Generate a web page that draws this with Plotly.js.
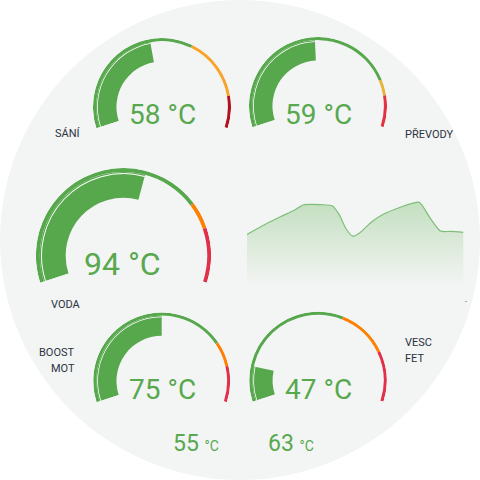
<!DOCTYPE html>
<html>
<head>
<meta charset="utf-8">
<script src="https://cdn.plot.ly/plotly-3.0.1.min.js"></script>
<style>
  html, body { margin: 0; padding: 0; background: #ffffff; }
  #chart { width: 480px; height: 480px; }
</style>
</head>
<body>
<div id="chart"></div>
<script>
// ---------- data ----------
const gaugeNames  = ['SÁNÍ', 'PŘEVODY', 'VODA', 'BOOST MOT', 'VESC FET'];
const gaugeValues = [58, 59, 94, 75, 47];
const gaugeMin    = [15, 20, 20, 40, 40];
const gaugeMax    = [110, 100, 150, 110, 90];
const warnFrom    = [74, 85, 117, 93, 70];
const critFrom    = [98, 90, 128, 100, 80];
const extraValues = [55, 63];
const unit = '°C';

const historyX = [0, 4.7, 9.4, 13.1, 15.8, 20.5, 23.7, 25.6, 27.4, 29.3, 31.1, 34.6, 37.9, 42.5, 45.8, 47.6, 48.5, 50.8, 53.6, 56.4, 60];
const historyY = [51.9, 54.1, 56.1, 57.6, 58.9, 58.9, 58.6, 56.5, 53.3, 51.5, 52.2, 54.9, 56.7, 58.3, 59.2, 59.5, 58.8, 55.7, 52.7, 52.6, 52.4];

// ---------- styling / layout ----------
const W = 480, H = 480;
const GREEN = '#57a84d';
const warnColors = ['#f6a42a', '#e6b43a', '#ff7f00', '#ff7f00', '#ff7f00'];
const critColors = ['#b3111d', '#e5303f', '#e0304a', '#e0304a', '#e0304a'];
// gauge centres and radii in px
const geo = [
  {cx: 162,   cy: 107,   r: 69},
  {cx: 318,   cy: 106,   r: 69},
  {cx: 123.5, cy: 255.6, r: 87.6},
  {cx: 161.7, cy: 381,   r: 68.5},
  {cx: 318,   cy: 380.5, r: 68.8}
];
const A = 18;            // degrees below horizontal at each end
const SPAN = 180 + 2 * A;

const traces = [];
const layout = {
  width: W, height: H,
  margin: {l: 0, r: 0, t: 0, b: 0},
  paper_bgcolor: '#ffffff',
  plot_bgcolor: 'rgba(0,0,0,0)',
  showlegend: false,
  hovermode: false,
  font: {family: 'Roboto, sans-serif'},
  shapes: [{
    type: 'circle', xref: 'paper', yref: 'paper', x0: 0, y0: 0, x1: 1, y1: 1,
    fillcolor: '#f3f4f4', line: {width: 0}, layer: 'below'
  }],
  annotations: []
};

function seg(pid, t0, t1, base, thick, color) {
  traces.push({
    type: 'barpolar', subplot: pid,
    theta: [(t0 + t1) / 2], width: [t1 - t0],
    base: [base], r: [thick],
    marker: {color: color, line: {width: 0}},
    hoverinfo: 'skip'
  });
}

gaugeNames.forEach((name, i) => {
  const pid = i === 0 ? 'polar' : 'polar' + (i + 1);
  const g = geo[i];
  const sinA = Math.sin(A * Math.PI / 180);
  layout[pid] = {
    domain: {
      x: [(g.cx - g.r) / W, (g.cx + g.r) / W],
      y: [(H - (g.cy + g.r * sinA)) / H, (H - (g.cy - g.r)) / H]
    },
    sector: [-A, 180 + A],
    hole: 0,
    bgcolor: 'rgba(0,0,0,0)',
    radialaxis: {visible: false, range: [0, 1]},
    angularaxis: {visible: false, rotation: 180 + A, direction: 'clockwise'}
  };
  const mn = gaugeMin[i], mx = gaugeMax[i];
  const th = v => (v - mn) / (mx - mn) * SPAN;
  // severity arc
  seg(pid, th(mn), th(warnFrom[i]), 0.955, 0.045, GREEN);
  seg(pid, th(warnFrom[i]), th(critFrom[i]), 0.955, 0.045, warnColors[i]);
  seg(pid, th(critFrom[i]), th(mx), 0.955, 0.045, critColors[i]);
  // value fill
  seg(pid, th(mn), th(gaugeValues[i]), 0.66, 0.295, GREEN);
  // thin white line on fill
  seg(pid, th(mn), th(gaugeValues[i]), 0.93, 0.011, '#ffffff');
});

// history area
traces.push({
  type: 'scatter', mode: 'lines', x: historyX, y: historyY,
  line: {color: '#7cc078', width: 1.2, shape: 'spline', smoothing: 0.6},
  fill: 'tozeroy',
  fillgradient: {type: 'vertical', start: 40, stop: 59.5,
    colorscale: [[0, 'rgba(243,244,243,1)'], [1, 'rgba(196,223,192,1)']]},
  hoverinfo: 'skip', xaxis: 'x', yaxis: 'y'
});
layout.xaxis = {domain: [247 / W, 463.5 / W], range: [0, 60], visible: false, fixedrange: true};
layout.yaxis = {domain: [(H - 285) / H, (H - 200) / H], range: [40, 60], visible: false, fixedrange: true};

// value texts
const valPos = [
  {x: 162.5, y: 114, s: 28},
  {x: 318,   y: 114, s: 28},
  {x: 123,   y: 264, s: 32},
  {x: 162,   y: 389, s: 28},
  {x: 318,   y: 389, s: 28}
];
const VALCOL = '#58a84e';
gaugeValues.forEach((v, i) => {
  const p = valPos[i];
  layout.annotations.push({
    xref: 'paper', yref: 'paper', x: p.x / W, y: 1 - p.y / H,
    xanchor: 'center', yanchor: 'middle', showarrow: false,
    text: v + ' ' + unit, font: {size: p.s, color: VALCOL, family: 'Roboto'}
  });
});

// labels
const LBL = '#2b3340';
const lblPos = [
  [{t: 'SÁNÍ', x: 53, y: 133.5, a: 'left'}],
  [{t: 'PŘEVODY', x: 403, y: 134, a: 'left'}],
  [{t: 'VODA', x: 49, y: 304.5, a: 'left'}],
  [{t: 'BOOST', x: 76.5, y: 352.5, a: 'right'}, {t: 'MOT', x: 76.5, y: 368.5, a: 'right'}],
  [{t: 'VESC', x: 403, y: 342.5, a: 'left'}, {t: 'FET', x: 403, y: 358.5, a: 'left'}]
];
gaugeNames.forEach((name, i) => {
  const parts = name.split(' ');
  lblPos[i].forEach((p, k) => {
    layout.annotations.push({
      xref: 'paper', yref: 'paper', x: p.x / W, y: 1 - p.y / H,
      xanchor: p.a, yanchor: 'middle', showarrow: false,
      text: parts.length === lblPos[i].length ? parts[k] : name,
      font: {size: 11, color: LBL, family: 'Roboto', weight: 400}
    });
  });
});

// small extra values
const extraPos = [{x: 171, y: 443}, {x: 266, y: 443}];
extraValues.forEach((v, i) => {
  const p = extraPos[i];
  layout.annotations.push({
    xref: 'paper', yref: 'paper', x: p.x / W, y: 1 - p.y / H,
    xanchor: 'left', yanchor: 'middle', showarrow: false,
    text: v + ' <span style="font-size:14px">' + unit + '</span>',
    font: {size: 23, color: VALCOL, family: 'Roboto'}
  });
});

// tiny axis mark
layout.annotations.push({
  xref: 'paper', yref: 'paper', x: 465.5 / W, y: 1 - 302 / H,
  xanchor: 'center', yanchor: 'middle', showarrow: false,
  text: '-', font: {size: 7, color: '#555', family: 'Roboto'}
});

Plotly.newPlot('chart', traces, layout, {staticPlot: true, displayModeBar: false});
</script>
</body>
</html>
